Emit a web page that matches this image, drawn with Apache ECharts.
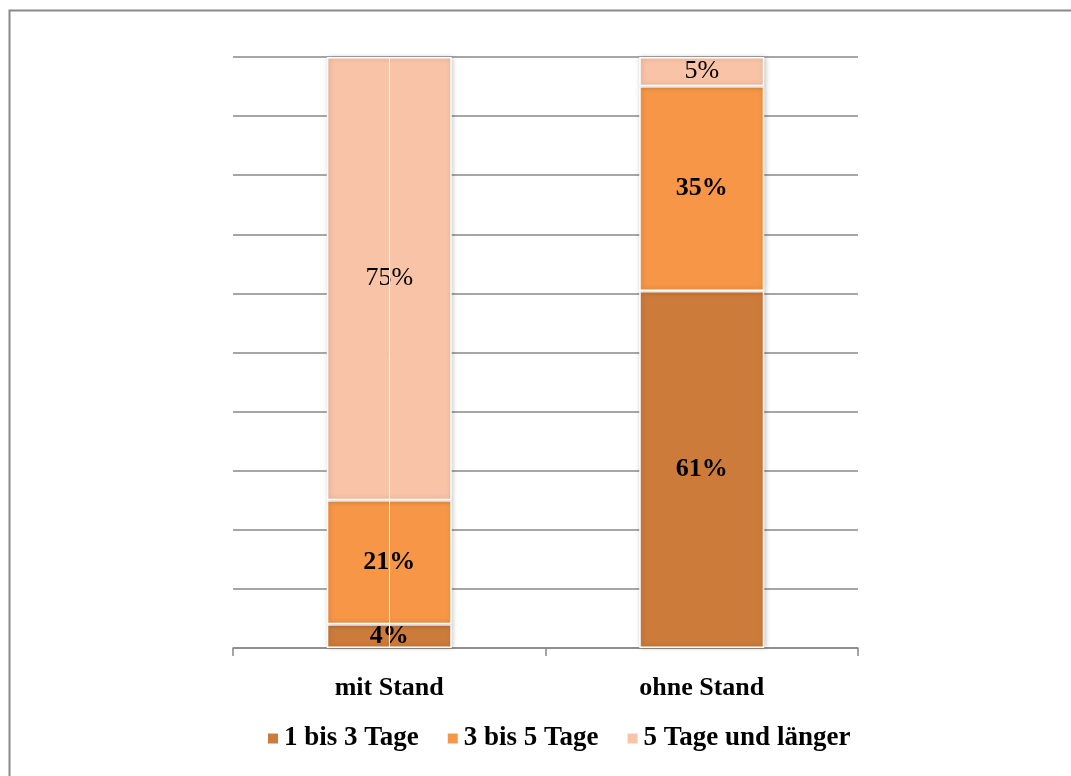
<!DOCTYPE html>
<html>
<head>
<meta charset="utf-8">
<script src="https://cdn.jsdelivr.net/npm/echarts@6/dist/echarts.min.js"></script>
<style>
html,body{margin:0;padding:0;background:#fff;}
#chart{width:1071px;height:776px;}
</style>
</head>
<body>
<div id="chart"></div>
<script>
const categories = ['mit Stand', 'ohne Stand'];
const seriesNames = ['1 bis 3 Tage', '3 bis 5 Tage', '5 Tage und länger'];
const kurz = [4, 61];      // 1 bis 3 Tage
const mittel = [21, 35];   // 3 bis 5 Tage
const lang = [75, 5];      // 5 Tage und länger
const yTicks = [0, 10, 20, 30, 40, 50, 60, 70, 80, 90, 100];

const raw = [kurz, mittel, lang];
const totals = categories.map((c, i) => raw.reduce((s, arr) => s + arr[i], 0));
const colors = ['#CD7B3A', '#F79646', '#F9C3A8'];
const weights = ['bold', 'bold', 'normal'];
const serif = '"Liberation Serif", "DejaVu Serif", serif';

const series = raw.map((arr, k) => ({
  name: seriesNames[k],
  type: 'bar',
  stack: 'total',
  barWidth: '40%',
  data: arr.map((v, i) => ({ value: v / totals[i] * 100, raw: v })),
  itemStyle: {
    color: colors[k],
    borderColor: '#ffffff',
    borderWidth: 1.5,
    shadowBlur: 5,
    shadowColor: 'rgba(0,0,0,0.22)',
    shadowOffsetX: 1
  },
  label: {
    show: true,
    position: 'inside',
    color: '#000',
    fontFamily: serif,
    fontSize: 26,
    fontWeight: weights[k],
    formatter: p => p.data.raw + '%'
  },
  markLine: k === 2 ? {
    silent: true,
    symbol: 'none',
    label: { show: false },
    lineStyle: { color: '#ffffff', width: 1, type: 'solid' },
    data: [{ xAxis: categories[0] }]
  } : undefined
}));

const chart = echarts.init(document.getElementById('chart'));
chart.setOption({
  animation: false,
  backgroundColor: '#fff',
  color: colors,
  graphic: [{
    type: 'rect',
    left: 7, top: 8,
    shape: { width: 1100, height: 800 },
    style: { fill: 'none', stroke: '#888', lineWidth: 2 },
    z: -1
  }],
  grid: { left: 233, right: 213, top: 57, bottom: 128, containLabel: false },
  legend: {
    data: seriesNames,
    left: 266,
    top: 725,
    padding: 0,
    itemWidth: 12,
    itemHeight: 12,
    itemGap: 27,
    icon: 'rect',
    textStyle: { fontFamily: serif, fontSize: 27, fontWeight: 'bold', color: '#000' }
  },
  xAxis: {
    type: 'category',
    data: categories,
    axisLine: { lineStyle: { color: '#888', width: 1.5 } },
    axisTick: { show: true, length: 8, lineStyle: { color: '#888', width: 1.5 } },
    axisLabel: { margin: 27, fontFamily: serif, fontSize: 26, fontWeight: 'bold', color: '#000' }
  },
  yAxis: {
    type: 'value',
    min: yTicks[0],
    max: yTicks[yTicks.length - 1],
    interval: yTicks[1] - yTicks[0],
    axisLine: { show: false },
    axisTick: { show: false },
    axisLabel: { show: false },
    splitLine: { lineStyle: { color: '#888', width: 1.5 } }
  },
  series: series
});
</script>
</body>
</html>
